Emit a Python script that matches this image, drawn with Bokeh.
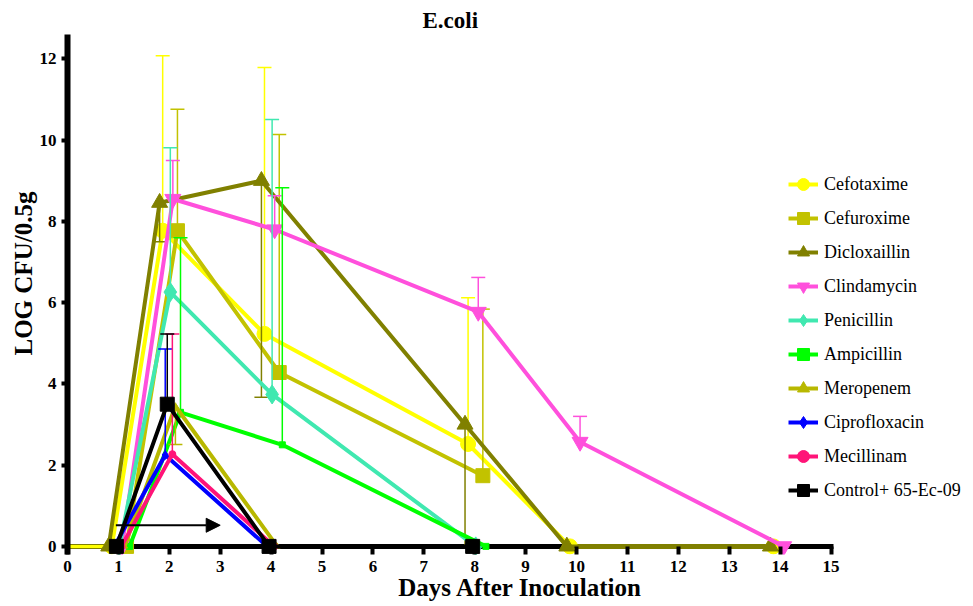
from bokeh.plotting import figure
from bokeh.models import Range1d, FixedTicker, Legend, LegendItem, Arrow, NormalHead, Title
from bokeh.embed import file_html
from bokeh.resources import INLINE

# ---------------- data ----------------
title_text = "E.coli"
x_label = "Days After Inoculation"
y_label = "LOG CFU/0.5g"
x_ticks = list(range(0, 16))
y_ticks = [0, 2, 4, 6, 8, 10, 12]

cefotaxime_days = [0, 1, 2, 4, 8, 10, 14]
cefotaxime_vals = [0, 0, 7.77, 5.23, 2.52, 0, 0]
cefotaxime_err = [0, 0, 4.31, 6.56, 3.60, 0, 0]

cefuroxime_days = [1, 2, 4, 8]
cefuroxime_vals = [0, 7.77, 4.28, 1.74]
cefuroxime_err = [0, 2.99, 5.86, 4.10]

dicloxaillin_days = [1, 2, 4, 8, 10, 14]
dicloxaillin_vals = [0, 8.46, 9.00, 3.00, 0, 0]
dicloxaillin_err = [0, 0.96, 5.33, 3.00, 0, 0]

clindamycin_days = [1, 2, 4, 8, 10, 14]
clindamycin_vals = [0, 8.55, 7.80, 5.77, 2.57, 0]
clindamycin_err = [0, 0.95, 0.83, 0.85, 0.63, 0]

penicillin_days = [1, 2, 4, 8]
penicillin_vals = [0, 6.26, 3.74, 0]
penicillin_err = [0, 3.55, 6.77, 0]

ampicillin_days = [1, 2, 4, 8]
ampicillin_vals = [0, 3.30, 2.50, 0]
ampicillin_err = [0, 4.30, 6.33, 0]

meropenem_days = [1, 2, 4]
meropenem_vals = [0, 3.45, 0]
meropenem_err = [0, 0.94, 0]

ciprofloxacin_days = [1, 2, 4]
ciprofloxacin_vals = [0, 2.25, 0]
ciprofloxacin_err = [0, 2.61, 0]

mecillinam_days = [1, 2, 4]
mecillinam_vals = [0, 2.27, 0]
mecillinam_err = [0, 2.96, 0]

control_days = [1, 2, 4, 8]
control_vals = [0, 3.50, 0, 0]
control_err = [0, 1.73, 0, 0]

arrow_start = (0.95, 0.52)
arrow_end = (3.0, 0.52)

# ---------------- styles ----------------
FONT = "'Liberation Serif', 'Times New Roman', serif"
INK = "#000000"
series = [
    dict(name="Cefotaxime", days=cefotaxime_days, vals=cefotaxime_vals, err=cefotaxime_err,
         color="#FFFF00", marker="circle", size=15, dodge=-0.13, err_dir="up"),
    dict(name="Cefuroxime", days=cefuroxime_days, vals=cefuroxime_vals, err=cefuroxime_err,
         color="#C2C200", marker="square", size=14, dodge=0.16, err_dir="up"),
    dict(name="Dicloxaillin", days=dicloxaillin_days, vals=dicloxaillin_vals, err=dicloxaillin_err,
         color="#808000", marker="triangle", size=16, dodge=-0.19, err_dir="down"),
    dict(name="Clindamycin", days=clindamycin_days, vals=clindamycin_vals, err=clindamycin_err,
         color="#FF50DC", marker="inverted_triangle", size=16, dodge=0.07, err_dir="up"),
    dict(name="Penicillin", days=penicillin_days, vals=penicillin_vals, err=penicillin_err,
         color="#40E8B0", marker="diamond", size=19, dodge=0.02, err_dir="up"),
    dict(name="Ampicillin", days=ampicillin_days, vals=ampicillin_vals, err=ampicillin_err,
         color="#00FF00", marker="square", size=6, dodge=0.22, err_dir="up"),
    dict(name="Meropenem", days=meropenem_days, vals=meropenem_vals, err=meropenem_err,
         color="#B8B800", marker="triangle", size=6, dodge=0.12, err_dir="down"),
    dict(name="Ciprofloxacin", days=ciprofloxacin_days, vals=ciprofloxacin_vals, err=ciprofloxacin_err,
         color="#0000FF", marker="diamond", size=9, dodge=-0.08, err_dir="up"),
    dict(name="Mecillinam", days=mecillinam_days, vals=mecillinam_vals, err=mecillinam_err,
         color="#FF1478", marker="circle", size=7, dodge=0.06, err_dir="up"),
    dict(name="Control+ 65-Ec-09", days=control_days, vals=control_vals, err=control_err,
         color="#000000", marker="square", size=14, dodge=-0.04, err_dir="up"),
]

# layout: frame spans from the y axis to the right edge so the legend can sit inside it
W, H = 973, 606
LEFT, TOP, BOTTOM = 67, 34, 52
px_per_day = 50.9
x_end = (W - LEFT) / px_per_day

p = figure(width=W, height=H, x_range=Range1d(0, x_end), y_range=Range1d(-0.2, 12.6),
           output_backend="svg", toolbar_location=None,
           min_border_left=LEFT, min_border_right=0, min_border_top=TOP, min_border_bottom=BOTTOM)

p.title.text = title_text
p.title.align = "left"
p.title.offset = 355
p.title.text_font = FONT
p.title.text_font_size = "23px"
p.title.text_font_style = "bold"
p.title.text_color = INK
p.title.standoff = 4

p.outline_line_color = None
p.grid.visible = False
p.background_fill_color = "white"
p.border_fill_color = "white"

# x axis line drawn at y = 0, across the tick span
p.segment(x0=[x_ticks[0]], y0=[0], x1=[x_ticks[-1]], y1=[0], line_color="black",
          line_width=5, line_cap="square", level="underlay")

xa = p.xaxis[0]
xa.ticker = FixedTicker(ticks=x_ticks)
xa.bounds = (x_ticks[0], x_ticks[-1])
xa.axis_line_color = None
xa.major_tick_in = 8
xa.major_tick_out = 0
xa.major_tick_line_width = 4
xa.minor_tick_line_color = None
xa.major_label_standoff = 6
xa.major_label_text_font = FONT
xa.major_label_text_font_style = "bold"
xa.major_label_text_font_size = "17px"
xa.major_label_text_color = INK
xa.axis_label = x_label
xa.axis_label_text_font = FONT
xa.axis_label_text_font_style = "bold"
xa.axis_label_text_font_size = "25px"
xa.axis_label_text_color = INK
xa.axis_label_standoff = -1

ya = p.yaxis[0]
ya.ticker = FixedTicker(ticks=y_ticks)
ya.axis_line_width = 6
ya.major_tick_in = 0
ya.major_tick_out = 6
ya.major_tick_line_width = 4
ya.minor_tick_line_color = None
ya.major_label_standoff = 5
ya.major_label_text_font = FONT
ya.major_label_text_font_style = "bold"
ya.major_label_text_font_size = "17px"
ya.major_label_text_color = INK

# y axis title as a side title, shifted up along the axis as in the original
y_title = Title(text=y_label, align="left", offset=199, standoff=0,
                text_font=FONT, text_font_style="bold", text_font_size="25px", text_color=INK)
p.add_layout(y_title, "left")

items = []
for s in series:
    xs = [d + s["dodge"] for d in s["days"]]
    ys = s["vals"]
    ex, y0, y1 = [], [], []
    for x, v, e in zip(xs, ys, s["err"]):
        if e > 0:
            ex.append(x)
            y0.append(v)
            y1.append(max(v + e, 0) if s["err_dir"] == "up" else max(v - e, 0))
    if ex:
        p.segment(x0=ex, y0=y0, x1=ex, y1=y1, line_color=s["color"], line_width=1.5)
        p.scatter(x=ex, y=y1, marker="dash", size=14, line_color=s["color"], line_width=1.5)
    r_line = p.line(xs, ys, line_color=s["color"], line_width=4)
    r_mark = p.scatter(xs, ys, marker=s["marker"], size=s["size"],
                       fill_color=s["color"], line_color=s["color"])
    items.append(LegendItem(label=s["name"], renderers=[r_line, r_mark]))

arrow = Arrow(x_start=arrow_start[0], y_start=arrow_start[1], x_end=arrow_end[0], y_end=arrow_end[1],
              line_color="black", line_width=2,
              end=NormalHead(size=14, fill_color="black", line_color="black"))
p.add_layout(arrow)

legend = Legend(items=items, location=(721, 47))
legend.label_text_font = FONT
legend.label_text_font_size = "18px"
legend.label_text_font_style = "normal"
legend.label_text_color = INK
legend.glyph_width = 30
legend.glyph_height = 34
legend.label_height = 20
legend.spacing = 0
legend.padding = 0
legend.margin = 0
legend.label_standoff = 6
legend.border_line_color = None
legend.background_fill_alpha = 0
p.add_layout(legend)

with open("out.html", "w") as f:
    f.write(file_html(p, INLINE))
